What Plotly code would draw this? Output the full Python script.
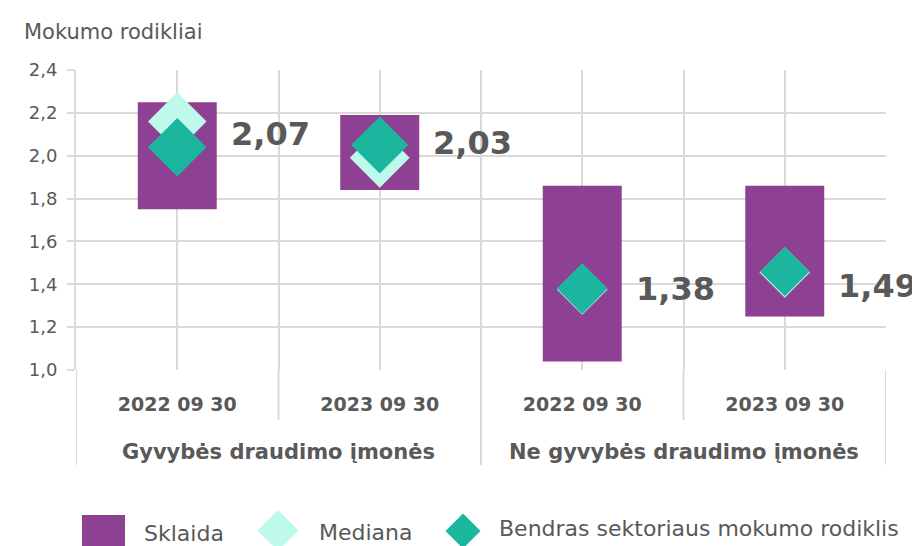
import plotly.graph_objects as go

# ---- data ----
groups = ["Gyvybės draudimo įmonės", "Ne gyvybės draudimo įmonės"]
dates = ["2022 09 30", "2023 09 30", "2022 09 30", "2023 09 30"]
range_low = [1.75, 1.84, 1.04, 1.25]
range_high = [2.25, 2.19, 1.86, 1.86]
median = [2.16, 1.99, 1.376, 1.456]
sector = [2.04, 2.05, 1.38, 1.46]
sector_text = ["2,07", "2,03", "1,38", "1,49"]
label_y = [2.10, 2.06, 1.38, 1.39]
y_ticks = [1.0, 1.2, 1.4, 1.6, 1.8, 2.0, 2.2, 2.4]
legend_names = ["Sklaida", "Mediana", "Bendras sektoriaus mokumo rodiklis"]

PURPLE = "#8E4192"
TEAL = "#1BB69D"
MINT = "#BEFAEB"
TXT = "#595959"
GRID = "#D9D9D9"
FONT = "DejaVu Sans"

W, H = 912, 546
ML, MR, MT, MB = 76, 26, 70, 176
PW, PH = W - ML - MR, H - MT - MB


def px(x):
    return (x - ML) / PW


def py(y):
    return (H - MB - y) / PH


xs = list(range(len(dates)))

fig = go.Figure()
fig.add_trace(go.Bar(
    x=xs, base=range_low, y=[h - l for h, l in zip(range_high, range_low)],
    width=0.39, marker=dict(color=PURPLE, line=dict(width=0)),
    hoverinfo="skip", showlegend=False,
))
fig.add_trace(go.Scatter(
    x=xs, y=median, mode="markers",
    marker=dict(symbol="diamond", color=MINT, size=[45, 46, 39, 39],
                opacity=1, line=dict(width=0)),
    hoverinfo="skip", showlegend=False,
))
fig.add_trace(go.Scatter(
    x=xs, y=sector, mode="markers",
    marker=dict(symbol="diamond", color=TEAL, size=[45, 44, 39, 38],
                opacity=1, line=dict(width=0)),
    hoverinfo="skip", showlegend=False,
))

annotations = []
for i, (t, ly) in enumerate(zip(sector_text, label_y)):
    annotations.append(dict(
        x=i + 0.255, y=ly, xref="x", yref="y", text=t, showarrow=False,
        xanchor="left", yanchor="middle",
        font=dict(family=FONT, size=32, color=TXT, weight="bold"),
    ))

# group labels
for gi, g in enumerate(groups):
    annotations.append(dict(
        x=gi * 2 + 0.5, y=py(452), xref="x", yref="paper", text=g, showarrow=False,
        xanchor="center", yanchor="middle",
        font=dict(family=FONT, size=21, color=TXT, weight="bold"),
    ))

# axis title
annotations.append(dict(
    x=px(22), y=py(32), xref="paper", yref="paper", text="Mokumo rodikliai",
    showarrow=False, xanchor="left", yanchor="middle",
    font=dict(family=FONT, size=21, color=TXT),
))

shapes = []
# dividers below the axis
for xv in [-0.5, 1.5, 3.5]:
    shapes.append(dict(type="line", xref="x", yref="paper", x0=xv, x1=xv,
                       y0=0, y1=py(465), line=dict(color=GRID, width=2)))
for xv in [0.5, 2.5]:
    shapes.append(dict(type="line", xref="x", yref="paper", x0=xv, x1=xv,
                       y0=0, y1=py(420), line=dict(color=GRID, width=2)))

# custom legend
shapes.append(dict(type="rect", xref="paper", yref="paper",
                   x0=px(82), x1=px(125), y0=py(515), y1=py(558),
                   fillcolor=PURPLE, line=dict(width=0)))


def diamond(cx, cy, r):
    return (f"M {px(cx - r)} {py(cy)} L {px(cx)} {py(cy - r)} "
            f"L {px(cx + r)} {py(cy)} L {px(cx)} {py(cy + r)} Z")


shapes.append(dict(type="path", xref="paper", yref="paper", path=diamond(278, 530.5, 20.5),
                   fillcolor=MINT, line=dict(width=0)))
shapes.append(dict(type="path", xref="paper", yref="paper", path=diamond(463, 531, 17.5),
                   fillcolor=TEAL, line=dict(width=0)))

for name, lx, ly in zip(legend_names, [142, 317, 497], [533, 532, 528]):
    annotations.append(dict(
        x=px(lx), y=py(ly), xref="paper", yref="paper", text=name, showarrow=False,
        xanchor="left", yanchor="middle",
        font=dict(family=FONT, size=22, color=TXT),
    ))

xtickvals = [v / 2 for v in range(-1, 2 * len(dates))]
xticktext = [dates[int(v)] if float(v).is_integer() else "" for v in xtickvals]

fig.update_layout(
    width=W, height=H,
    margin=dict(l=ML, r=MR, t=MT, b=MB),
    paper_bgcolor="white", plot_bgcolor="white",
    separators=", ",
    showlegend=False,
    shapes=shapes, annotations=annotations,
    xaxis=dict(
        range=[-0.5, 3.5], tickvals=xtickvals, ticktext=xticktext,
        showgrid=True, gridcolor=GRID, gridwidth=2, zeroline=False,
        ticks="", ticklabelstandoff=21,
        tickfont=dict(family=FONT, size=19, color=TXT, weight="bold"),
        showline=False,
    ),
    yaxis=dict(
        range=[1.0, 2.4], tickvals=y_ticks, tickformat=".1f",
        showgrid=True, gridcolor=GRID, gridwidth=2, zeroline=False,
        ticks="outside", ticklen=7, tickcolor=GRID, tickwidth=2,
        showline=True, linecolor=GRID, linewidth=2,
        ticklabelstandoff=6,
        tickfont=dict(family=FONT, size=18, color=TXT),
    ),
)

fig.write_html("out.html", config={"displayModeBar": False},
               post_script="document.body.style.margin='0';")
